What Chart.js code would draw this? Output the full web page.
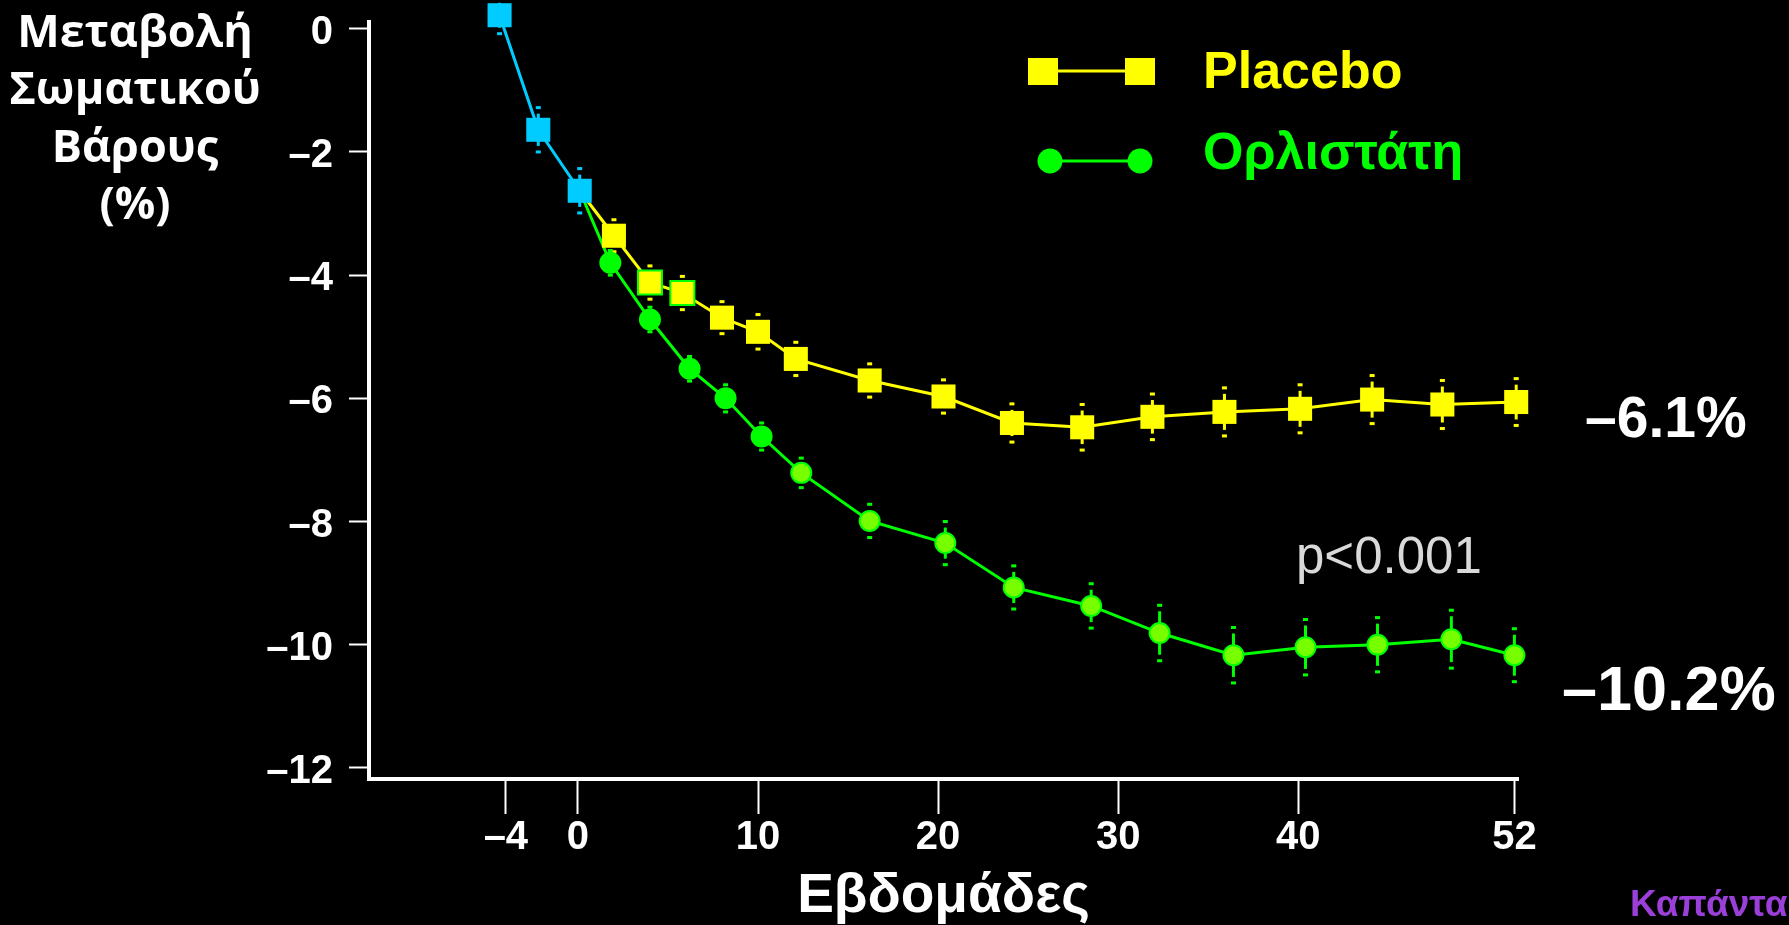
<!DOCTYPE html>
<html><head><meta charset="utf-8">
<script src="https://cdn.jsdelivr.net/npm/chart.js@4.4.1/dist/chart.umd.min.js"></script>
<style>html,body{margin:0;padding:0;background:#000;overflow:hidden}canvas{display:block}</style>
</head><body>
<canvas id="c" width="1789" height="925"></canvas>
<script>
// ---- data ----
const runInWeeks   = [-4.35, -2.2, 0.1];
const runInValues  = [0.22, -1.64, -2.63];
const runInErrors  = [0.30, 0.36, 0.36];

const placeboWeeks  = [2.0, 4.0, 5.8, 8.0, 10.0, 12.1, 16.2, 20.3, 24.1, 28.0, 31.9, 35.9, 40.1, 44.1, 48.0, 52.1];
const placeboValues = [-3.36, -4.12, -4.29, -4.69, -4.92, -5.36, -5.71, -5.97, -6.40, -6.47, -6.30, -6.22, -6.17, -6.02, -6.10, -6.06];
const placeboErrors = [0.26, 0.27, 0.27, 0.26, 0.28, 0.27, 0.27, 0.27, 0.31, 0.37, 0.37, 0.39, 0.39, 0.39, 0.39, 0.38];

const orlistatWeeks  = [1.8, 4.0, 6.2, 8.2, 10.2, 12.4, 16.2, 20.4, 24.2, 28.5, 32.3, 36.4, 40.4, 44.4, 48.5, 52.0];
const orlistatValues = [-3.80, -4.72, -5.52, -6.00, -6.62, -7.21, -7.99, -8.35, -9.07, -9.37, -9.81, -10.17, -10.04, -10.00, -9.91, -10.17];
const orlistatErrors = [0.20, 0.20, 0.20, 0.22, 0.22, 0.24, 0.27, 0.35, 0.35, 0.36, 0.45, 0.45, 0.45, 0.44, 0.47, 0.43];

const xTickValues = [-4, 0, 10, 20, 30, 40, 52];
const xTickLabels = ['–4', '0', '10', '20', '30', '40', '52'];
const yTickValues = [0, -2, -4, -6, -8, -10, -12];
const yTickLabels = ['0', '–2', '–4', '–6', '–8', '–10', '–12'];

const yTitleLines = ['Μεταβολή', 'Σωματικού', 'Βάρους', '(%)'];
const xTitle = 'Εβδομάδες';
const seriesNames = ['Placebo', 'Ορλιστάτη'];
const endLabels = ['–6.1%', '–10.2%'];
const pText = 'p<0.001';
const author = 'Καπάντα';

// ---- build datasets ----
const toPts = (xs, ys) => xs.map((x, i) => ({x: x, y: ys[i]}));
const lastIdx = runInWeeks.length - 1;
const startPt = {x: runInWeeks[lastIdx], y: runInValues[lastIdx]};

const ARIAL = "'Liberation Sans', Arial, sans-serif";
const CYAN = '#00ccff', YEL = '#ffff00', GRN = '#00ff00', LIME = '#77ff00';

const errorBars = {
  id: 'errorBars',
  beforeDatasetsDraw(chart) {
    const ctx = chart.ctx, ys = chart.scales.y;
    chart.data.datasets.forEach((ds, i) => {
      if (!ds.errors) return;
      const meta = chart.getDatasetMeta(i);
      ctx.save();
      ctx.strokeStyle = ds.errColor; ctx.fillStyle = ds.errColor; ctx.lineWidth = 3;
      meta.data.forEach((pt, j) => {
        const e = ds.errors[j];
        if (e == null) return;
        const v = ds.data[j].y;
        const top = ys.getPixelForValue(v + e), bot = ys.getPixelForValue(v - e);
        ctx.beginPath(); ctx.moveTo(pt.x, top + 6); ctx.lineTo(pt.x, bot - 6); ctx.stroke();
        ctx.fillRect(pt.x - 2.5, top - 1.5, 5, 3);
        ctx.fillRect(pt.x - 2.5, bot - 1.5, 5, 3);
      });
      ctx.restore();
    });
  }
};

const annotations = {
  id: 'annotations',
  afterDraw(chart) {
    const ctx = chart.ctx;
    ctx.save();
    // y title
    ctx.fillStyle = '#fff';
    ctx.textAlign = 'center'; ctx.textBaseline = 'alphabetic';
    ctx.font = "bold 45px 'Open Sans', sans-serif";
    const base = [47, 104, 162, 219];
    yTitleLines.forEach((t, i) => ctx.fillText(t, 135, base[i]));
    // legend
    ctx.textAlign = 'left';
    ctx.strokeStyle = YEL; ctx.lineWidth = 3;
    ctx.beginPath(); ctx.moveTo(1043, 71); ctx.lineTo(1140, 71); ctx.stroke();
    ctx.fillStyle = YEL;
    ctx.fillRect(1028, 58, 30, 27); ctx.fillRect(1125, 58, 30, 27);
    ctx.font = 'bold 52px ' + ARIAL;
    ctx.fillText(seriesNames[0], 1203, 88);
    ctx.strokeStyle = GRN;
    ctx.beginPath(); ctx.moveTo(1050, 161); ctx.lineTo(1140, 161); ctx.stroke();
    ctx.fillStyle = GRN;
    [1050, 1140].forEach(cx => { ctx.beginPath(); ctx.arc(cx, 161, 12.5, 0, Math.PI * 2); ctx.fill(); });
    ctx.fillText(seriesNames[1], 1203, 169);
    // end labels
    ctx.fillStyle = '#fff';
    ctx.font = 'bold 57px ' + ARIAL;
    ctx.fillText(endLabels[0], 1585, 437);
    ctx.font = 'bold 63px ' + ARIAL;
    ctx.fillText(endLabels[1], 1562, 710);
    // p value
    ctx.fillStyle = '#d9d9d9';
    ctx.font = '51px ' + ARIAL;
    ctx.fillText(pText, 1296, 573);
    // author
    ctx.fillStyle = '#9a3fd8';
    ctx.font = 'bold 37px ' + ARIAL;
    ctx.fillText(author, 1630, 916);
    ctx.restore();
  }
};

new Chart(document.getElementById('c'), {
  type: 'scatter',
  data: {
    datasets: [
      {
        label: 'run-in',
        data: toPts(runInWeeks, runInValues),
        errors: runInErrors, errColor: CYAN,
        showLine: true, borderColor: CYAN, borderWidth: 3,
        pointStyle: 'rect', pointRadius: 17, pointBackgroundColor: CYAN, pointBorderWidth: 0,
        clip: false
      },
      {
        label: seriesNames[0],
        data: [startPt].concat(toPts(placeboWeeks, placeboValues)),
        errors: [null].concat(placeboErrors), errColor: YEL,
        showLine: true, borderColor: YEL, borderWidth: 3,
        pointStyle: 'rect',
        pointRadius: c => c.dataIndex === 0 ? 0 : 17,
        pointBackgroundColor: YEL,
        pointBorderColor: c => (c.dataIndex === 2 || c.dataIndex === 3) ? GRN : YEL,
        pointBorderWidth: c => (c.dataIndex === 2 || c.dataIndex === 3) ? 2 : 0,
        clip: false
      },
      {
        label: seriesNames[1],
        data: [startPt].concat(toPts(orlistatWeeks, orlistatValues)),
        errors: [null].concat(orlistatErrors), errColor: GRN,
        showLine: true, borderColor: GRN, borderWidth: 3,
        pointStyle: 'circle',
        pointRadius: c => c.dataIndex === 0 ? 0 : 10,
        pointBackgroundColor: c => c.dataIndex <= 5 ? GRN : LIME,
        pointBorderColor: GRN, pointBorderWidth: 2,
        clip: false
      }
    ]
  },
  options: {
    responsive: false, animation: false, devicePixelRatio: 1,
    layout: {padding: {left: 0, top: 22, right: 271, bottom: 0}},
    elements: {line: {tension: 0}},
    plugins: {legend: {display: false}, tooltip: {enabled: false}},
    scales: {
      x: {
        type: 'linear', min: -11.6, max: 52.2,
        afterBuildTicks: s => { s.ticks = xTickValues.map(v => ({value: v})); },
        afterFit: s => { s.height = 146; s.paddingLeft = 0; s.paddingRight = 0; },
        border: {display: true, color: '#fff', width: 4},
        grid: {display: true, drawOnChartArea: false, drawTicks: true, tickLength: 35, tickWidth: 2, tickColor: '#fff', color: '#fff'},
        ticks: {color: '#fff', font: {family: ARIAL, size: 40, weight: 'bold'}, padding: 0, autoSkip: false, maxRotation: 0,
                callback: v => xTickLabels[xTickValues.indexOf(v)]},
        title: {display: true, text: xTitle, color: '#fff', font: {family: ARIAL, size: 55, weight: 'bold', lineHeight: 1}, padding: {top: 0, bottom: 1}}
      },
      y: {
        type: 'linear', min: -12.18, max: 0.11,
        afterBuildTicks: s => { s.ticks = yTickValues.map(v => ({value: v})); },
        afterFit: s => { s.width = 369; s.paddingTop = 0; s.paddingBottom = 0; },
        border: {display: true, color: '#fff', width: 4},
        grid: {display: true, drawOnChartArea: false, drawTicks: true, tickLength: 20, tickWidth: 2, tickColor: '#fff', color: '#fff'},
        ticks: {color: '#fff', font: {family: ARIAL, size: 40, weight: 'bold'}, padding: 16, labelOffset: 4,
                callback: v => yTickLabels[yTickValues.indexOf(v)]}
      }
    }
  },
  plugins: [errorBars, annotations]
});
</script>
</body></html>
